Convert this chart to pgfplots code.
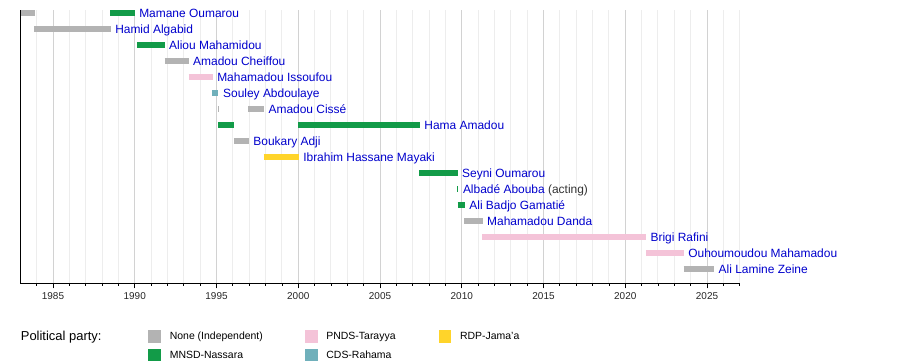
\documentclass[border=0pt]{standalone}
\usepackage{fontspec}
\setmainfont{Liberation Sans}
\usepackage{pgfplots}
\pgfplotsset{compat=1.18}
\definecolor{cNone}{HTML}{B3B3B3}
\definecolor{cMNSD}{HTML}{129B48}
\definecolor{cPNDS}{HTML}{F4C3D8}
\definecolor{cCDS}{HTML}{70B0BB}
\definecolor{cRDP}{HTML}{FFD42A}
\definecolor{lnk}{RGB}{0,0,204}
\definecolor{gmaj}{HTML}{D2D2D2}
\definecolor{gmin}{HTML}{EDEDED}
\pgfplotsset{bar/.style={line width=5.5bp, line cap=butt, no marks}}
\newcommand{\lab}[3]{\node[anchor=base west, inner sep=0pt, xshift=4.5bp, yshift=-4.4bp, text=lnk, font=\fontsize{12}{14}\selectfont] at (axis cs:#1,#2) {#3};}
\begin{document}
\begin{tikzpicture}
\useasboundingbox (0,0) rectangle (900bp,-362bp);
\begin{axis}[
  at={(20.3bp,-283.3bp)}, anchor=south west,
  scale only axis, width=719.4bp, height=273.3bp,
  xmin=1983, xmax=2027,
  ymin=0.8125, ymax=17.894, y dir=reverse,
  clip=false,
  axis x line=bottom, axis y line=left,
  axis line style={-, line width=0.9bp, black},
  ytick=\empty,
  xtick={1985,1990,...,2025},
  minor xtick={1984,1986,1987,1988,1989,1991,1992,1993,1994,1996,1997,1998,1999,2001,2002,2003,2004,2006,2007,2008,2009,2011,2012,2013,2014,2016,2017,2018,2019,2021,2022,2023,2024,2026,2027},
  tick align=outside,
  major tick length=5bp, minor tick length=2.5bp,
  tick style={black, line width=0.8bp},
  xmajorgrids, xminorgrids,
  major grid style={gmaj, line width=1bp},
  minor grid style={gmin, line width=1bp},
  /pgf/number format/1000 sep={},
  /pgf/number format/assume math mode=true,
  xticklabel style={font=\fontsize{10}{12}\selectfont, text=black!85, yshift=-1bp},
  legend columns=3,
  legend cell align=left,
  legend image code/.code={\fill[#1, draw=none] (0bp,-6.2bp) rectangle (12.7bp,6.2bp);},
  legend style={at={(axis description cs:0.178,-0.1722)}, anchor=north west,
    draw=none, fill=none, inner sep=0pt, outer sep=0pt,
    font=\fontsize{10.5}{12}\selectfont,
    nodes={inner sep=0pt},
    /tikz/column 2/.style={column sep=42bp},
    /tikz/column 4/.style={column sep=43bp},
    /tikz/column 1/.style={column sep=8.8bp},
    /tikz/column 3/.style={column sep=8.8bp},
    /tikz/column 5/.style={column sep=8.8bp},
    row sep=6.3bp},
]
% legend-order plots
\addplot[bar, cNone] coordinates {(1983.03,1) (1983.88,1)};
\addlegendentry{None (Independent)}
\addplot[bar, cPNDS] coordinates {(1993.29,5) (1994.76,5)};
\addlegendentry{PNDS-Tarayya}
\addplot[bar, cRDP] coordinates {(1997.88,10) (2000.02,10)};
\addlegendentry{RDP-Jama'a}
\addplot[bar, cMNSD] coordinates {(1988.51,1) (1989.99,1)};
\addlegendentry{MNSD-Nassara}
\addplot[bar, cCDS] coordinates {(1994.74,6) (1995.12,6)};
\addlegendentry{CDS-Rahama}
% remaining bars
\addplot[bar, cNone, forget plot] coordinates {(1983.86,2) (1988.52,2)};
\addplot[bar, cMNSD, forget plot] coordinates {(1990.15,3) (1991.82,3)};
\addplot[bar, cNone, forget plot] coordinates {(1991.82,4) (1993.29,4)};
\addplot[bar, cNone, forget plot] coordinates {(1995.10,7) (1995.16,7)};
\addplot[bar, cNone, forget plot] coordinates {(1996.95,7) (1997.90,7)};
\addplot[bar, cMNSD, forget plot] coordinates {(1995.12,8) (1996.07,8)};
\addplot[bar, cMNSD, forget plot] coordinates {(2000.00,8) (2007.43,8)};
\addplot[bar, cNone, forget plot] coordinates {(1996.07,9) (1996.97,9)};
\addplot[bar, cMNSD, forget plot] coordinates {(2007.41,11) (2009.74,11)};
\addplot[bar, cMNSD, forget plot] coordinates {(2009.73,12) (2009.79,12)};
\addplot[bar, cMNSD, forget plot] coordinates {(2009.75,13) (2010.18,13)};
\addplot[bar, cNone, forget plot] coordinates {(2010.16,14) (2011.27,14)};
\addplot[bar, cPNDS, forget plot] coordinates {(2011.26,15) (2021.26,15)};
\addplot[bar, cPNDS, forget plot] coordinates {(2021.26,16) (2023.57,16)};
\addplot[bar, cNone, forget plot] coordinates {(2023.57,17) (2025.43,17)};
% labels
\lab{1989.99}{1}{Mamane Oumarou}
\lab{1988.52}{2}{Hamid Algabid}
\lab{1991.82}{3}{Aliou Mahamidou}
\lab{1993.29}{4}{Amadou Cheiffou}
\lab{1994.76}{5}{Mahamadou Issoufou}
\lab{1995.12}{6}{Souley Abdoulaye}
\lab{1997.90}{7}{Amadou Cissé}
\lab{2007.43}{8}{Hama Amadou}
\lab{1996.97}{9}{Boukary Adji}
\lab{2000.02}{10}{Ibrahim Hassane Mayaki}
\lab{2009.74}{11}{Seyni Oumarou}
\lab{2009.79}{12}{Albadé Abouba \textcolor{black!80}{(acting)}}
\lab{2010.18}{13}{Ali Badjo Gamatié}
\lab{2011.27}{14}{Mahamadou Danda}
\lab{2021.26}{15}{Brigi Rafini}
\lab{2023.57}{16}{Ouhoumoudou Mahamadou}
\lab{2025.43}{17}{Ali Lamine Zeine}
\end{axis}
\node[anchor=base west, inner sep=0pt, font=\fontsize{13}{15}\selectfont] at (20.7bp,-340bp) {Political party:};
\end{tikzpicture}
\end{document}
